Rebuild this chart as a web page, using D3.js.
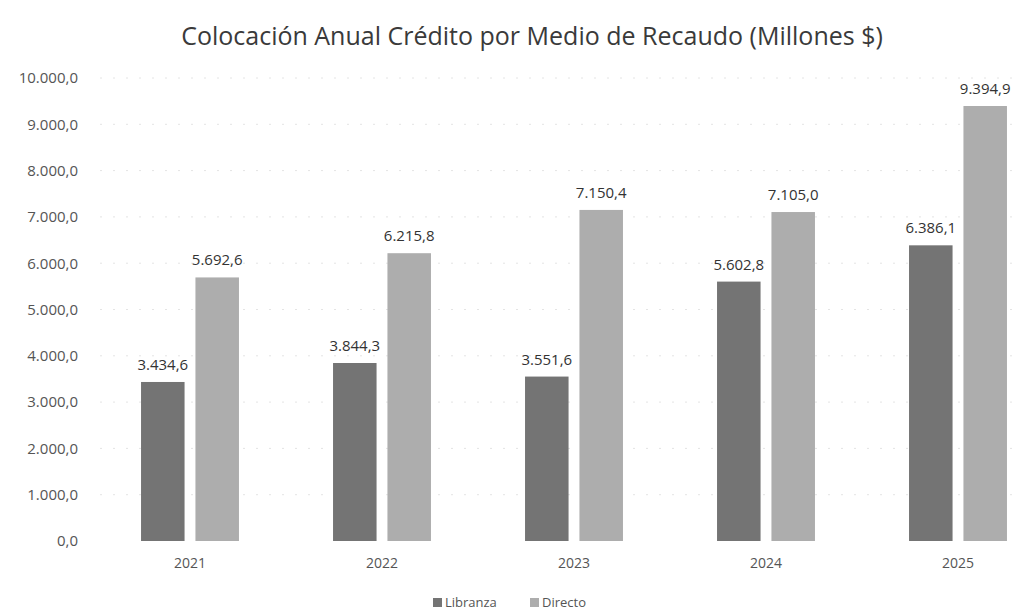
<!DOCTYPE html>
<html>
<head>
<meta charset="utf-8">
<script src="https://cdn.jsdelivr.net/npm/d3@7"></script>
<style>
body { margin: 0; background: #fff; }
svg { font-family: "Open Sans", "DejaVu Sans", sans-serif; }
</style>
</head>
<body>
<svg width="1013" height="613"></svg>
<script>
var years = ["2021", "2022", "2023", "2024", "2025"];
var series = ["Libranza", "Directo"];
var libranza = [3434.6, 3844.3, 3551.6, 5602.8, 6386.1];
var directo = [5692.6, 6215.8, 7150.4, 7105.0, 9394.9];
var yTicks = [0, 1000, 2000, 3000, 4000, 5000, 6000, 7000, 8000, 9000, 10000];
var colors = ["#747474", "#adadad"];

var fmt = d3.formatLocale({decimal: ",", thousands: ".", grouping: [3], currency: ["$", ""]}).format(",.1f");

var svg = d3.select("svg");

var y = d3.scaleLinear().domain([0, 10000]).range([541, 78]);
var x = d3.scaleBand().domain(years).range([94, 1054]).paddingInner(0.49).paddingOuter(0.245);
var xs = d3.scaleBand().domain(series).range([0, x.bandwidth()]).paddingInner(0.2);

// title
svg.append("text")
	.attr("x", 532).attr("y", 45)
	.attr("text-anchor", "middle")
	.style("font-size", "25px")
	.style("fill", "#3a3a3a")
	.text("Colocación Anual Crédito por Medio de Recaudo (Millones $)");

// faint gridlines
svg.append("g").selectAll("line")
	.data(yTicks.slice(1))
	.enter().append("line")
	.attr("x1", 100).attr("x2", 1013)
	.attr("y1", function(d){ return y(d) }).attr("y2", function(d){ return y(d) })
	.style("stroke", "#e4e4e4")
	.style("stroke-dasharray", "2,11");

// y axis
var yAxis = svg.append("g")
	.attr("transform", "translate(80,0)")
	.call(d3.axisLeft(y).tickValues(yTicks).tickFormat(fmt).tickSize(0).tickPadding(2));
yAxis.select(".domain").remove();
yAxis.selectAll("text").style("font-size", "15px").style("fill", "#555").style("font-family", "'Open Sans', sans-serif");

// x axis
var xAxis = svg.append("g")
	.attr("transform", "translate(0,552)")
	.call(d3.axisBottom(x).tickSize(0).tickPadding(6));
xAxis.select(".domain").remove();
xAxis.selectAll("text").style("font-size", "14px").style("fill", "#555").style("font-family", "'Open Sans', sans-serif");

var rows = years.map(function(yr, i){
	return {year: yr, values: [{s: "Libranza", v: libranza[i]}, {s: "Directo", v: directo[i]}]};
});

var groups = svg.append("g").selectAll("g")
	.data(rows)
	.enter().append("g")
	.attr("transform", function(d){ return "translate(" + x(d.year) + ",0)" });

groups.selectAll("rect")
	.data(function(d){ return d.values })
	.enter().append("rect")
	.attr("x", function(d){ return xs(d.s) })
	.attr("y", function(d){ return y(d.v) })
	.attr("width", xs.bandwidth())
	.attr("height", function(d){ return y(0) - y(d.v) })
	.style("fill", function(d, i){ return colors[i] });

groups.selectAll("text.val")
	.data(function(d){ return d.values })
	.enter().append("text")
	.attr("class", "val")
	.attr("x", function(d){ return xs(d.s) + xs.bandwidth() / 2 })
	.attr("y", function(d){ return y(d.v) - 12 })
	.attr("text-anchor", "middle")
	.style("font-size", "15px")
	.style("fill", "#333")
	.text(function(d){ return fmt(d.v) });

// legend
var legend = svg.append("g").attr("transform", "translate(433,607)");
var items = legend.selectAll("g")
	.data(series)
	.enter().append("g")
	.attr("transform", function(d, i){ return "translate(" + (i * 97) + ",0)" });
items.append("rect")
	.attr("x", 0).attr("y", -9).attr("width", 9).attr("height", 9)
	.style("fill", function(d, i){ return colors[i] });
items.append("text")
	.attr("x", 12).attr("y", 0)
	.style("font-size", "13px")
	.style("fill", "#555")
	.text(function(d){ return d });
</script>
</body>
</html>
